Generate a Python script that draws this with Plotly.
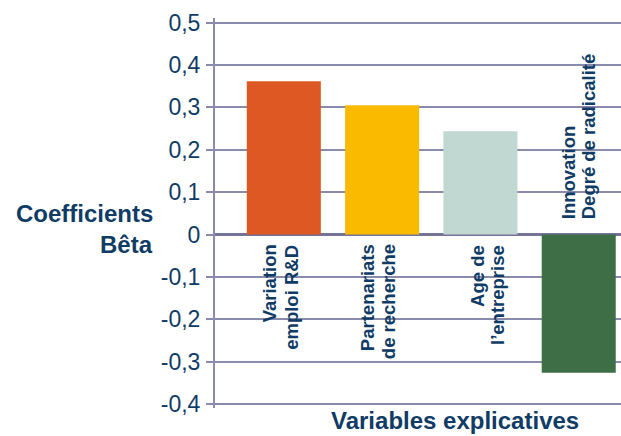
import plotly.graph_objects as go

# ---- data ----
categories = ["Variation emploi R&D", "Partenariats de recherche", "Age de l'entreprise", "Innovation Degré de radicalité"]
beta_values = [0.362, 0.305, 0.244, -0.326]
label_lines = [
    ["Variation", "emploi R&D"],
    ["Partenariats", "de recherche"],
    ["Age de", "l\u2019entreprise"],
    ["Innovation", "Degré de radicalité"],
]
tick_values = [-0.4, -0.3, -0.2, -0.1, 0, 0.1, 0.2, 0.3, 0.4, 0.5]
tick_labels = ["-0,4", "-0,3", "-0,2", "-0,1", "0", "0,1", "0,2", "0,3", "0,4", "0,5"]
y_title_lines = ["Coefficients", "Bêta"]
x_title = "Variables explicatives"

# ---- style ----
bar_colors = ["#DE5823", "#F9BA00", "#C0D7D2", "#3D6E46"]
text_color = "#0F3B65"
grid_color = "#8A8AAA"
line_shifts = [[-14, 7], [-15, 6], [-3, 17], [-10, 10]]
FONT = "Liberation Sans, Arial, sans-serif"

fig = go.Figure()
fig.add_trace(go.Bar(
    x=categories, y=beta_values,
    marker=dict(color=bar_colors, line=dict(width=0)),
    width=0.753,
    hoverinfo="skip",
))

annotations = []
for i, (cat, val, lines) in enumerate(zip(categories, beta_values, label_lines)):
    for j, line in enumerate(lines):
        pos = val >= 0
        annotations.append(dict(
            x=cat, y=0, xref="x", yref="y", text=line, showarrow=False,
            textangle=-90, xanchor="center", yanchor="top" if pos else "bottom",
            xshift=line_shifts[i][j], yshift=-8 if pos else 13,
            font=dict(family=FONT, size=18.5, color=text_color, weight="bold"),
        ))

# y title (two right-aligned lines)
for line, ypx in zip(y_title_lines, [213, 244]):
    annotations.append(dict(
        x=155, y=1 - (ypx - 18) / 390, xref="paper", yref="paper",
        text=line, showarrow=False, xanchor="right", yanchor="middle",
        font=dict(family=FONT, size=24, color=text_color, weight="bold"),
    ))

annotations.append(dict(
    x=455, y=-(436 - 408) / 390, xref="paper", yref="paper",
    text=x_title, showarrow=False, xanchor="center", yanchor="bottom",
    font=dict(family=FONT, size=24, color=text_color, weight="bold"),
))

# convert pixel x positions to paper coordinates
for a in annotations:
    if a.get("xref") == "paper":
        a["x"] = (a["x"] - 215) / 406

fig.update_layout(
    width=621, height=436,
    margin=dict(l=215, r=0, t=18, b=28),
    paper_bgcolor="white", plot_bgcolor="white",
    showlegend=False,
    annotations=annotations,
    xaxis=dict(
        range=[-0.70, 3.43], showticklabels=False, showgrid=False,
        zeroline=False, showline=False, ticks="",
    ),
    yaxis=dict(
        range=[-0.4094, 0.511], tickvals=tick_values, ticktext=tick_labels,
        showgrid=True, gridcolor=grid_color, gridwidth=1.5,
        zeroline=True, zerolinecolor="#75739A", zerolinewidth=3,
        showline=True, linecolor=grid_color, linewidth=2,
        ticks="outside", ticklen=7, tickcolor=grid_color, tickwidth=1.5,
        ticklabelstandoff=1,
        tickfont=dict(family=FONT, size=23, color=text_color),
    ),
)

fig.write_html("out.html")
